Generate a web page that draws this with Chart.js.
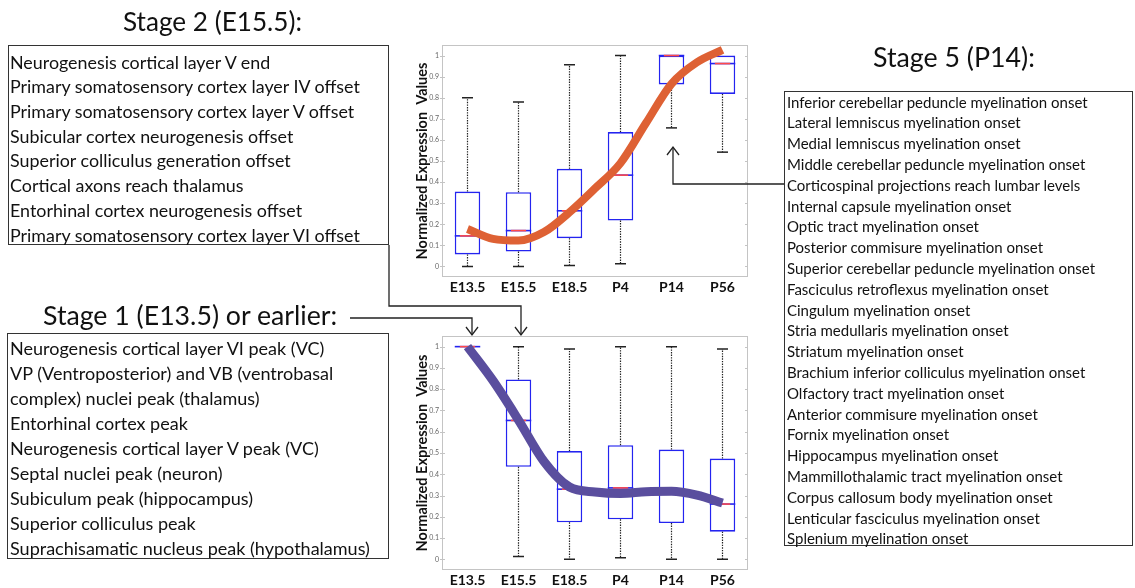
<!DOCTYPE html>
<html><head><meta charset="utf-8">
<script src="https://cdn.jsdelivr.net/npm/chart.js@4.4.1/dist/chart.umd.min.js"></script>
<style>
html,body{margin:0;padding:0;background:#fff;}
body{width:1135px;height:588px;position:relative;overflow:hidden;font-family:Lato,"Open Sans",sans-serif;color:#111;}
canvas{position:absolute;}
.box{position:absolute;border:1.5px solid #333;box-sizing:border-box;}
.t{position:absolute;white-space:nowrap;}
svg{position:absolute;left:0;top:0;}
</style></head><body>
<canvas id="cTop" width="346" height="268" style="left:414px;top:30px"></canvas>
<canvas id="cBot" width="346" height="268" style="left:414px;top:320px"></canvas>
<div class="box" style="left:8px;top:45px;width:381px;height:200px"></div>
<div class="box" style="left:7px;top:333px;width:382px;height:226px"></div>
<div class="box" style="left:784px;top:91px;width:349px;height:455px"></div>
<svg width="1135" height="588" id="conn">
 <g fill="none" stroke="#222" stroke-width="1.3">
  <polyline points="350,318 472,318 472,335"/>
  <polyline points="466,327 472,335 478,327"/>
  <polyline points="389,245 389,306 521,306 521,335"/>
  <polyline points="515,327 521,335 527,327"/>
  <polyline points="784,184 673,184 673,147"/>
  <polyline points="667,155 673,147 679,155"/>
 </g>
</svg>
<div id="texts"></div>
<script>
// ---------- data ----------
const categories = ['E13.5','E15.5','E18.5','P4','P14','P56'];
const yTickValues = [0,0.1,0.2,0.3,0.4,0.5,0.6,0.7,0.8,0.9,1];

const topMin = [0, 0, 0.005, 0.013, 0.657, 0.542];
const topQ1  = [0.057, 0.071, 0.134, 0.218, 0.863, 0.818];
const topMed = [0.145, 0.17, 0.264, 0.433, 1.0, 0.962];
const topQ3  = [0.355, 0.352, 0.463, 0.637, 1.0, 1.0];
const topMax = [0.80, 0.78, 0.956, 1.0, 1.0, 1.0];

const botMin = [1, 0.014, 0, 0.008, 0, 0];
const botQ1  = [1, 0.435, 0.174, 0.188, 0.171, 0.13];
const botMed = [1, 0.653, 0.33, 0.336, 0.32, 0.26];
const botQ3  = [1, 0.846, 0.509, 0.537, 0.516, 0.474];
const botMax = [1, 1, 0.989, 1, 1, 0.989];

// trend curves, read at whole and half category positions
const curvePos  = [0, 0.5, 1, 1.5, 2, 2.5, 3, 3.5, 4, 4.5, 5];
const topCurve  = [0.178, 0.131, 0.123, 0.163, 0.257, 0.37, 0.49, 0.68, 0.866, 0.968, 1.027];
const botCurve  = [1.0, 0.84, 0.655, 0.46, 0.34, 0.317, 0.31, 0.318, 0.32, 0.302, 0.265];

const stage2Title = 'Stage 2 (E15.5):';
const stage2Items = ['Neurogenesis cortical layer V end','Primary somatosensory cortex layer IV offset','Primary somatosensory cortex layer V offset','Subicular cortex neurogenesis offset','Superior colliculus generation offset','Cortical axons reach thalamus','Entorhinal cortex neurogenesis offset','Primary somatosensory cortex layer VI offset'];
const stage1Title = 'Stage 1 (E13.5) or earlier:';
const stage1Items = ['Neurogenesis cortical layer VI peak (VC)','VP (Ventroposterior) and VB (ventrobasal','complex) nuclei peak (thalamus)','Entorhinal cortex peak','Neurogenesis cortical layer V peak (VC)','Septal nuclei peak (neuron)','Subiculum peak (hippocampus)','Superior colliculus peak','Suprachisamatic nucleus peak (hypothalamus)'];
const stage5Title = 'Stage 5 (P14):';
const stage5Items = ['Inferior cerebellar peduncle myelination onset','Lateral lemniscus myelination onset','Medial lemniscus myelination onset','Middle cerebellar peduncle myelination onset','Corticospinal projections reach lumbar levels','Internal capsule myelination onset','Optic tract myelination onset','Posterior commisure myelination onset','Superior cerebellar peduncle myelination onset','Fasciculus retroflexus myelination onset','Cingulum myelination onset','Stria medullaris myelination onset','Striatum myelination onset','Brachium inferior colliculus myelination onset','Olfactory tract myelination onset','Anterior commisure myelination onset','Fornix myelination onset','Hippocampus myelination onset','Mammillothalamic tract myelination onset','Corpus callosum body myelination onset','Lenticular fasciculus myelination onset','Splenium myelination onset'];

// ---------- text blocks ----------
const mctx = document.createElement('canvas').getContext('2d');
function fitSize(str, target){
  mctx.font = '400 100px Lato';
  return 100*target/mctx.measureText(str).width;
}
const host = document.getElementById('texts');
function addText(str, left, cy, size, lh){
  const d = document.createElement('div');
  d.className='t';
  d.textContent = str;
  d.style.left = left+'px';
  d.style.top = (cy - lh/2)+'px';
  d.style.fontSize = size+'px';
  d.style.lineHeight = lh+'px';
  d.style.height = lh+'px';
  host.appendChild(d);
}
function addTitle(str, left, cy, width){
  const s = fitSize(str, width);
  addText(str, left, cy, s, s*1.2);
}
function addList(items, left, cy0, step, longest, width){
  const s = fitSize(longest, width);
  items.forEach((it,i)=>addText(it, left, cy0+i*step, s, step));
}
addTitle(stage2Title, 123, 22, 179);
addTitle(stage1Title, 43, 315, 295);
addTitle(stage5Title, 873, 57, 162);
addList(stage2Items, 10, 62, 24.7, stage2Items[1], 352);
addList(stage1Items, 10, 348, 25, stage1Items[8], 360);
addList(stage5Items, 787, 102, 20.8, stage5Items[8], 309);

// ---------- charts ----------
const boxPlugin = {
  id:'boxes',
  beforeDatasetsDraw(chart){
    const {ctx, chartArea:a, scales:{y}} = chart;
    ctx.save();
    ctx.strokeStyle = '#c4c4c4';
    ctx.lineWidth = 1;
    ctx.strokeRect(a.left+0.5, a.top+0.5, a.right-a.left-1, a.bottom-a.top-1);
    y.ticks.forEach(t=>{
      const py = Math.round(y.getPixelForValue(t.value))+0.5;
      ctx.beginPath();
      ctx.moveTo(a.left-2, py); ctx.lineTo(a.left+3, py);
      ctx.moveTo(a.right-3, py); ctx.lineTo(a.right, py);
      ctx.stroke();
    });
    ctx.restore();
  },
  afterDatasetDraw(chart, args, opts){
    if(args.index!==0) return;
    const {ctx, scales:{x,y}} = chart;
    const meta = chart.getDatasetMeta(0);
    const st = opts.stats;
    ctx.save();
    for(let i=0;i<categories.length;i++){
      const px = x.getPixelForValue(i);
      const hw = meta.data[i].width/2;
      const yMin=y.getPixelForValue(st.min[i]), yQ1=y.getPixelForValue(st.q1[i]),
            yMed=y.getPixelForValue(st.med[i]), yQ3=y.getPixelForValue(st.q3[i]),
            yMax=y.getPixelForValue(st.max[i]);
      ctx.strokeStyle='#222';
      ctx.lineWidth=1.2;
      ctx.setLineDash([1.4,1.2]);
      ctx.beginPath();
      if(st.max[i]>st.q3[i]){ctx.moveTo(px,yQ3);ctx.lineTo(px,yMax);}
      if(st.min[i]<st.q1[i]){ctx.moveTo(px,yQ1);ctx.lineTo(px,yMin);}
      ctx.stroke();
      ctx.setLineDash([]);
      ctx.lineWidth=1.5;
      ctx.beginPath();
      if(st.max[i]>st.q3[i]){ctx.moveTo(px-5.5,yMax);ctx.lineTo(px+5.5,yMax);}
      if(st.min[i]<st.q1[i]){ctx.moveTo(px-5.5,yMin);ctx.lineTo(px+5.5,yMin);}
      ctx.stroke();
      ctx.lineWidth=1.6;
      ctx.strokeStyle='#2424f0';
      ctx.beginPath();ctx.moveTo(px-hw,yMed);ctx.lineTo(px+hw,yMed);ctx.stroke();
      ctx.strokeStyle='#ff4a4a';
      ctx.beginPath();ctx.moveTo(px-hw*0.6,yMed);ctx.lineTo(px+hw*0.6,yMed);ctx.stroke();
    }
    ctx.restore();
  }
};

function makeChart(id, st, curve, curveColor, curveWidth, padTop, xH){
  return new Chart(document.getElementById(id), {
    data:{
      labels: categories,
      datasets:[
        {type:'bar', order:2, xAxisID:'x', grouped:false, data: st.q1.map((v,i)=>[v, st.q3[i]]),
         backgroundColor:'#ffffff', borderColor:'#2424f0', borderWidth:1.6, borderSkipped:false,
         barPercentage:0.5, categoryPercentage:1},
        {type:'line', order:1, xAxisID:'xc', data: curvePos.map((p,i)=>({x:p, y:curve[i]})),
         borderColor: curveColor, borderWidth: curveWidth,
         cubicInterpolationMode:'monotone', pointRadius:0, fill:false, clip:false, borderCapStyle:'butt'}
      ]
    },
    options:{
      responsive:false, animation:false, devicePixelRatio:1,
      layout:{padding:{top:padTop, right:12, left:0, bottom:0}},
      plugins:{legend:{display:false}, tooltip:{enabled:false}, boxes:{stats:st}},
      scales:{
        x:{type:'category', offset:true, grid:{display:false, drawTicks:false, tickLength:0}, border:{display:false},
           ticks:{padding:2, color:'#111', font:{family:'Lato', weight:'bold', size:14}, maxRotation:0, autoSkip:false},
           afterFit(s){ s.height = xH; }},
        xc:{type:'linear', display:false, min:-0.5, max:5.5},
        y:{type:'linear', min:-0.05, max:1.05, grid:{display:false, drawTicks:false, tickLength:0}, border:{display:false},
           afterBuildTicks(s){ s.ticks = yTickValues.map(v=>({value:v})); },
           ticks:{padding:3, color:'#666', font:{family:'Lato', size:7}, callback:v=>String(+(+v).toFixed(1))},
           title:{display:true, text:'Normalized Expression  Values', color:'#111', padding:0,
                  font:{family:'Lato', weight:'bold', size:14.5}},
           afterFit(s){ s.width = 28; }}
      }
    },
    plugins:[boxPlugin]
  });
}
makeChart('cTop', {min:topMin,q1:topQ1,med:topMed,q3:topQ3,max:topMax}, topCurve, '#de6134', 8, 15, 21);
makeChart('cBot', {min:botMin,q1:botQ1,med:botMed,q3:botQ3,max:botMax}, botCurve, '#5a4e9e', 9, 16, 18);
</script>
</body></html>
